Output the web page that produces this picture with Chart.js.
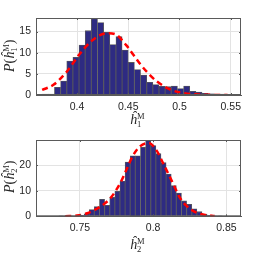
<!DOCTYPE html>
<html>
<head>
<meta charset="utf-8">
<script src="https://cdn.jsdelivr.net/npm/chart.js@4.4.0/dist/chart.umd.min.js"></script>
<style>
  body { margin: 0; background: #fff; }
  canvas { display: block; }
</style>
</head>
<body>
<canvas id="chartTop" width="266" height="128"></canvas>
<canvas id="chartBottom" width="266" height="128"></canvas>
<script>
// top histogram (h1)
const binsTop = [0.369, 0.375, 0.381, 0.387, 0.393, 0.399, 0.405, 0.411, 0.417, 0.423,
  0.429, 0.435, 0.441, 0.447, 0.453, 0.459, 0.465, 0.471, 0.477, 0.483,
  0.489, 0.495, 0.501, 0.507, 0.513, 0.519, 0.525, 0.531, 0.537, 0.543];
const countsTop = [0.2, 0.2, 1.8, 3.3, 8.0, 8.9, 11.8, 15.2, 18.0, 17.1,
  14.8, 11.9, 13.8, 10.6, 7.7, 6.0, 4.7, 3.0, 2.45, 2.06,
  1.97, 2.1, 1.5, 2.1, 0.87, 0.7, 0.4, 0.3, 0.2, 0.2];
const fitXTop = [0.366, 0.377, 0.390, 0.402, 0.413, 0.423, 0.430, 0.437, 0.448, 0.455,
  0.462, 0.470, 0.478, 0.491, 0.505, 0.520, 0.547];
const fitYTop = [1.2, 2.4, 5.5, 9.5, 12.5, 14.2, 14.6, 14.4, 11.8, 9.5,
  7.2, 5.0, 3.2, 1.3, 0.4, 0.1, 0.0];
const xTicksTop = [0.4, 0.45, 0.5, 0.55];
const yTicksTop = [0, 5, 10, 15];

// bottom histogram (h2)
const binsBottom = [0.7371, 0.7406, 0.7441, 0.7476, 0.7511, 0.7546, 0.7581, 0.7616, 0.7651, 0.7686,
  0.7721, 0.7756, 0.7791, 0.7826, 0.7861, 0.7896, 0.7931, 0.7966, 0.8001, 0.8036,
  0.8071, 0.8106, 0.8141, 0.8176, 0.8211, 0.8246, 0.8281, 0.8316, 0.8351, 0.8386,
  0.8421, 0.8456];
const countsBottom = [0.1, 0.1, 0.2, 0.2, 0.4, 1.0, 2.6, 3.8, 6.6, 4.3,
  7.4, 9.8, 13.8, 21.2, 23.6, 23.6, 27.0, 29.8, 27.6, 24.5,
  21.0, 16.5, 12.0, 9.1, 6.0, 4.7, 2.9, 1.8, 0.8, 0.4,
  0.2, 0.1];
const fitXBottom = [0.740, 0.748, 0.755, 0.764, 0.771, 0.778, 0.782, 0.786, 0.791, 0.797,
  0.802, 0.807, 0.814, 0.818, 0.823, 0.830, 0.836, 0.842];
const fitYBottom = [0.05, 0.3, 1.2, 3.8, 7.2, 13.5, 18.5, 23.5, 27.3, 28.6,
  26.0, 20.5, 12.3, 7.5, 4.0, 1.3, 0.5, 0.15];
const xTicksBottom = [0.75, 0.8, 0.85];
const yTicksBottom = [0, 10, 20];

// box round the axes plus small inward ticks, like matlab
const boxPlugin = {
  id: "box",
  afterDraw(chart) {
    const { ctx, chartArea: a, scales } = chart;
    ctx.save();
    ctx.strokeStyle = "#5a5a5a";
    ctx.lineWidth = 1;
    ctx.strokeRect(a.left + 0.5, a.top + 0.5, a.right - a.left - 1, a.bottom - a.top - 1);
    ctx.beginPath();
    scales.x.ticks.forEach((t) => {
      const px = Math.round(scales.x.getPixelForValue(t.value)) + 0.5;
      ctx.moveTo(px, a.bottom); ctx.lineTo(px, a.bottom - 2);
      ctx.moveTo(px, a.top); ctx.lineTo(px, a.top + 2);
    });
    scales.y.ticks.forEach((t) => {
      const py = Math.round(scales.y.getPixelForValue(t.value)) + 0.5;
      ctx.moveTo(a.left, py); ctx.lineTo(a.left + 2, py);
      ctx.moveTo(a.right, py); ctx.lineTo(a.right - 2, py);
    });
    ctx.stroke();
    ctx.restore();
  },
};

// h-hat with superscript M and a subscript, returns width
function drawH(ctx, x, y, sub) {
  ctx.font = 'italic 14px "Liberation Serif"';
  ctx.fillText("ĥ", x, y);
  const w = ctx.measureText("ĥ").width;
  ctx.font = '8.5px "Liberation Serif"';
  ctx.fillText("M", x + w, y - 5.5);
  ctx.fillText(sub, x + w, y + 3);
  return w + ctx.measureText("M").width;
}

const labelPlugin = {
  id: "hlabels",
  afterDraw(chart, args, opts) {
    const ctx = chart.ctx;
    ctx.save();
    ctx.fillStyle = "#262626";
    ctx.textAlign = "left";
    ctx.textBaseline = "alphabetic";
    // x label
    drawH(ctx, opts.xl[0] - 8, opts.xl[1], opts.sub);
    // y label, rotated
    ctx.translate(opts.yl[0], opts.yl[1]);
    ctx.rotate(-Math.PI / 2);
    let x = -15;
    ctx.font = 'italic 14px "Liberation Serif"';
    ctx.fillText("P", x, 0);
    x += ctx.measureText("P").width;
    ctx.font = '14px "Liberation Serif"';
    ctx.fillText("(", x, 0);
    x += ctx.measureText("(").width;
    x += drawH(ctx, x, 0, opts.sub);
    ctx.font = '14px "Liberation Serif"';
    ctx.fillText(")", x, 0);
    ctx.restore();
  },
};

function makeChart(id, bins, counts, fitX, fitY, xTicks, yTicks, cfg) {
  const ctx = document.getElementById(id).getContext("2d");
  return new Chart(ctx, {
    type: "bar",
    data: {
      datasets: [
        {
          type: "line",
          data: fitX.map((x, i) => ({ x: x, y: fitY[i] })),
          borderColor: "#ff0000",
          borderWidth: 2.5,
          borderDash: [6, 4],
          pointRadius: 0,
          cubicInterpolationMode: "monotone",
          fill: false,
          order: 0,
        },
        {
          data: bins.map((x, i) => ({ x: x, y: counts[i] })),
          backgroundColor: "#2e2b82",
          borderColor: "#5a5a5a",
          borderWidth: 0.8,
          barPercentage: 1,
          categoryPercentage: 1,
          order: 1,
        },
      ],
    },
    plugins: [boxPlugin, labelPlugin],
    options: {
      responsive: false,
      animation: false,
      layout: { padding: { left: 0, top: cfg.top, right: 25, bottom: 0 } },
      plugins: {
        legend: { display: false },
        tooltip: { enabled: false },
        hlabels: { sub: cfg.sub, xl: cfg.xl, yl: cfg.yl },
      },
      scales: {
        x: {
          type: "linear",
          min: cfg.xmin,
          max: cfg.xmax,
          offset: false,
          afterBuildTicks: (s) => { s.ticks = xTicks.map((v) => ({ value: v })); },
          afterFit: (s) => { s.height = cfg.xh; },
          grid: { color: "#e3e3e3", drawTicks: false, offset: false },
          border: { color: "#5a5a5a" },
          ticks: {
            padding: 6,
            color: "#262626",
            font: { family: "Liberation Sans", size: 10.5 },
            maxRotation: 0,
            callback: (v) => String(v),
          },
        },
        y: {
          min: 0,
          max: cfg.ymax,
          afterBuildTicks: (s) => { s.ticks = yTicks.map((v) => ({ value: v })); },
          afterFit: (s) => { s.width = 36; },
          grid: { color: "#e3e3e3", drawTicks: false },
          border: { color: "#5a5a5a" },
          ticks: {
            padding: 5,
            color: "#262626",
            font: { family: "Liberation Sans", size: 10.5 },
            callback: (v) => String(v),
          },
        },
      },
    },
  });
}

makeChart("chartTop", binsTop, countsTop, fitXTop, fitYTop, xTicksTop, yTicksTop,
  { top: 18, xh: 33, xmin: 0.36, xmax: 0.56, ymax: 18.2, sub: "1", xl: [138, 124], yl: [14, 57] });
makeChart("chartBottom", binsBottom, countsBottom, fitXBottom, fitYBottom, xTicksBottom, yTicksBottom,
  { top: 12, xh: 39.7, xmin: 0.72, xmax: 0.86, ymax: 29.8, sub: "2", xl: [138, 121], yl: [14, 50] });
</script>
</body>
</html>
